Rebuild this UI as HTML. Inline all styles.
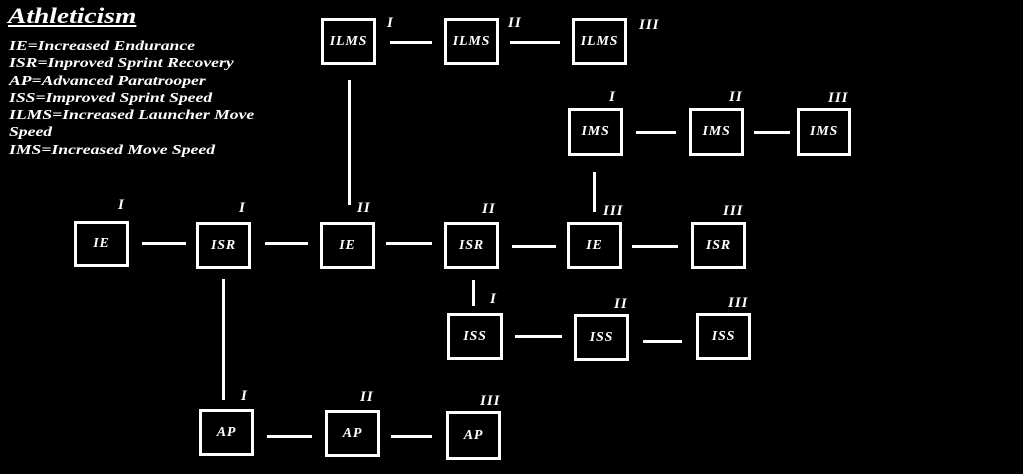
<!DOCTYPE html>
<html><head><meta charset="utf-8"><style>
html,body{margin:0;padding:0;background:#000;}
body{width:1023px;height:474px;position:relative;overflow:hidden;font-family:"Liberation Serif",serif;font-weight:bold;font-style:italic;color:#fff;}
.b{position:absolute;box-sizing:border-box;border:3px solid #fff;display:flex;align-items:center;justify-content:center;font-size:14px;letter-spacing:0.8px;}
.h{position:absolute;height:3px;background:#fff;}
.v{position:absolute;width:3px;background:#fff;}
.t{position:absolute;font-size:15px;line-height:14px;letter-spacing:1px;}
#title{position:absolute;left:8px;top:3px;font-size:22px;text-decoration:underline;transform:scaleX(1.25);transform-origin:left top;}
#leg{position:absolute;left:9px;top:38px;font-size:14px;line-height:17.3px;transform:scaleX(1.26);transform-origin:left top;white-space:nowrap;}
</style></head><body>
<div id="title">Athleticism</div>
<div id="leg">IE=Increased Endurance<br>ISR=Inproved Sprint Recovery<br>AP=Advanced Paratrooper<br>ISS=Improved Sprint Speed<br>ILMS=Increased Launcher Move<br>Speed<br>IMS=Increased Move Speed</div>

<div class="b" style="left:321px;top:18px;width:55px;height:47px">ILMS</div>
<div class="b" style="left:444px;top:18px;width:55px;height:47px">ILMS</div>
<div class="b" style="left:572px;top:18px;width:55px;height:47px">ILMS</div>
<div class="b" style="left:568px;top:108px;width:55px;height:48px">IMS</div>
<div class="b" style="left:689px;top:108px;width:55px;height:48px">IMS</div>
<div class="b" style="left:797px;top:108px;width:54px;height:48px">IMS</div>
<div class="b" style="left:74px;top:221px;width:55px;height:46px">IE</div>
<div class="b" style="left:196px;top:222px;width:55px;height:47px">ISR</div>
<div class="b" style="left:320px;top:222px;width:55px;height:47px">IE</div>
<div class="b" style="left:444px;top:222px;width:55px;height:47px">ISR</div>
<div class="b" style="left:567px;top:222px;width:55px;height:47px">IE</div>
<div class="b" style="left:691px;top:222px;width:55px;height:47px">ISR</div>
<div class="b" style="left:447px;top:313px;width:56px;height:47px">ISS</div>
<div class="b" style="left:574px;top:314px;width:55px;height:47px">ISS</div>
<div class="b" style="left:696px;top:313px;width:55px;height:47px">ISS</div>
<div class="b" style="left:199px;top:409px;width:55px;height:47px">AP</div>
<div class="b" style="left:325px;top:410px;width:55px;height:47px">AP</div>
<div class="b" style="left:446px;top:411px;width:55px;height:49px">AP</div>

<div class="h" style="left:390px;top:41px;width:42px"></div>
<div class="h" style="left:510px;top:41px;width:50px"></div>
<div class="h" style="left:636px;top:131px;width:40px"></div>
<div class="h" style="left:754px;top:131px;width:36px"></div>
<div class="h" style="left:142px;top:242px;width:44px"></div>
<div class="h" style="left:265px;top:242px;width:43px"></div>
<div class="h" style="left:386px;top:242px;width:46px"></div>
<div class="h" style="left:512px;top:245px;width:44px"></div>
<div class="h" style="left:632px;top:245px;width:46px"></div>
<div class="h" style="left:515px;top:335px;width:47px"></div>
<div class="h" style="left:643px;top:340px;width:39px"></div>
<div class="h" style="left:267px;top:435px;width:45px"></div>
<div class="h" style="left:391px;top:435px;width:41px"></div>

<div class="v" style="left:348px;top:80px;height:125px"></div>
<div class="v" style="left:593px;top:172px;height:40px"></div>
<div class="v" style="left:472px;top:280px;height:26px"></div>
<div class="v" style="left:222px;top:279px;height:121px"></div>

<div class="t" style="left:387px;top:16px">I</div>
<div class="t" style="left:508px;top:16px">II</div>
<div class="t" style="left:639px;top:18px">III</div>
<div class="t" style="left:609px;top:90px">I</div>
<div class="t" style="left:729px;top:90px">II</div>
<div class="t" style="left:828px;top:91px">III</div>
<div class="t" style="left:118px;top:198px">I</div>
<div class="t" style="left:239px;top:201px">I</div>
<div class="t" style="left:357px;top:201px">II</div>
<div class="t" style="left:482px;top:202px">II</div>
<div class="t" style="left:603px;top:204px">III</div>
<div class="t" style="left:723px;top:204px">III</div>
<div class="t" style="left:490px;top:292px">I</div>
<div class="t" style="left:614px;top:297px">II</div>
<div class="t" style="left:728px;top:296px">III</div>
<div class="t" style="left:241px;top:389px">I</div>
<div class="t" style="left:360px;top:390px">II</div>
<div class="t" style="left:480px;top:394px">III</div>
</body></html>
